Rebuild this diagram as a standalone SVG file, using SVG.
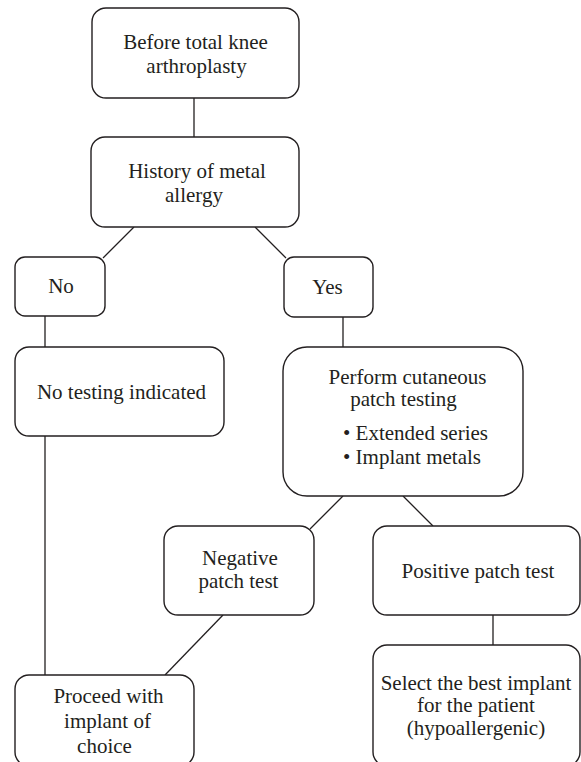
<svg xmlns="http://www.w3.org/2000/svg" width="581" height="762" viewBox="0 0 581 762">
<style>
.box{fill:#fff;stroke:#231f20;stroke-width:1.4}
.t{font-family:"Liberation Serif","Times New Roman","DejaVu Serif",serif;font-size:21px;fill:#231f20;text-anchor:middle}
.s{text-anchor:start}
#connectors line{stroke:#231f20;stroke-width:1.3}
</style>
<rect width="581" height="762" fill="#fff"/>
<g id="connectors">
<line x1="194" y1="98" x2="194" y2="137"/>
<line x1="134" y1="227" x2="103" y2="258"/>
<line x1="255" y1="227" x2="286" y2="258"/>
<line x1="45" y1="316" x2="45" y2="347"/>
<line x1="343" y1="317" x2="343" y2="347"/>
<line x1="45" y1="436" x2="45" y2="675"/>
<line x1="343" y1="496" x2="310" y2="529"/>
<line x1="403" y1="496" x2="433" y2="526"/>
<line x1="493" y1="615" x2="493" y2="645"/>
<line x1="223" y1="615" x2="165" y2="675"/>
</g>
<g id="n1"><rect class="box" x="92" y="8" width="207" height="90" rx="14"/>
<text class="t" x="195.5" y="49">Before total knee</text><text class="t" x="196.5" y="73">arthroplasty</text></g>
<g id="n2"><rect class="box" x="91" y="137" width="208" height="90" rx="14"/>
<text class="t" x="197" y="178">History of metal</text><text class="t" x="194" y="202">allergy</text></g>
<g id="n3"><rect class="box" x="15" y="257" width="90" height="59" rx="10"/>
<text class="t" x="61" y="293">No</text></g>
<g id="n4"><rect class="box" x="284" y="257" width="89" height="60" rx="10"/>
<text class="t" x="327.5" y="294">Yes</text></g>
<g id="n5"><rect class="box" x="15" y="347" width="209" height="89" rx="14"/>
<text class="t" x="121.5" y="399">No testing indicated</text></g>
<g id="n6"><rect class="box" x="283" y="347" width="240" height="149" rx="24"/>
<text class="t" x="407.5" y="384">Perform cutaneous</text><text class="t" x="403.5" y="406">patch testing</text>
<text class="t s" x="343" y="440">• Extended series</text><text class="t s" x="343" y="464">• Implant metals</text></g>
<g id="n7"><rect class="box" x="164" y="526" width="150" height="89" rx="14"/>
<text class="t" x="240" y="565">Negative</text><text class="t" x="238.5" y="588">patch test</text></g>
<g id="n8"><rect class="box" x="373" y="526" width="207" height="89" rx="14"/>
<text class="t" x="478" y="578">Positive patch test</text></g>
<g id="n9"><rect class="box" x="373" y="645" width="207" height="121" rx="14"/>
<text class="t" x="476" y="690">Select the best implant</text><text class="t" x="476" y="712">for the patient</text><text class="t" x="476" y="735">(hypoallergenic)</text></g>
<g id="n10"><rect class="box" x="15" y="675" width="179" height="91" rx="14"/>
<text class="t" x="108.5" y="703">Proceed with</text><text class="t" x="107.5" y="728">implant of</text><text class="t" x="104.5" y="753">choice</text></g>
</svg>
